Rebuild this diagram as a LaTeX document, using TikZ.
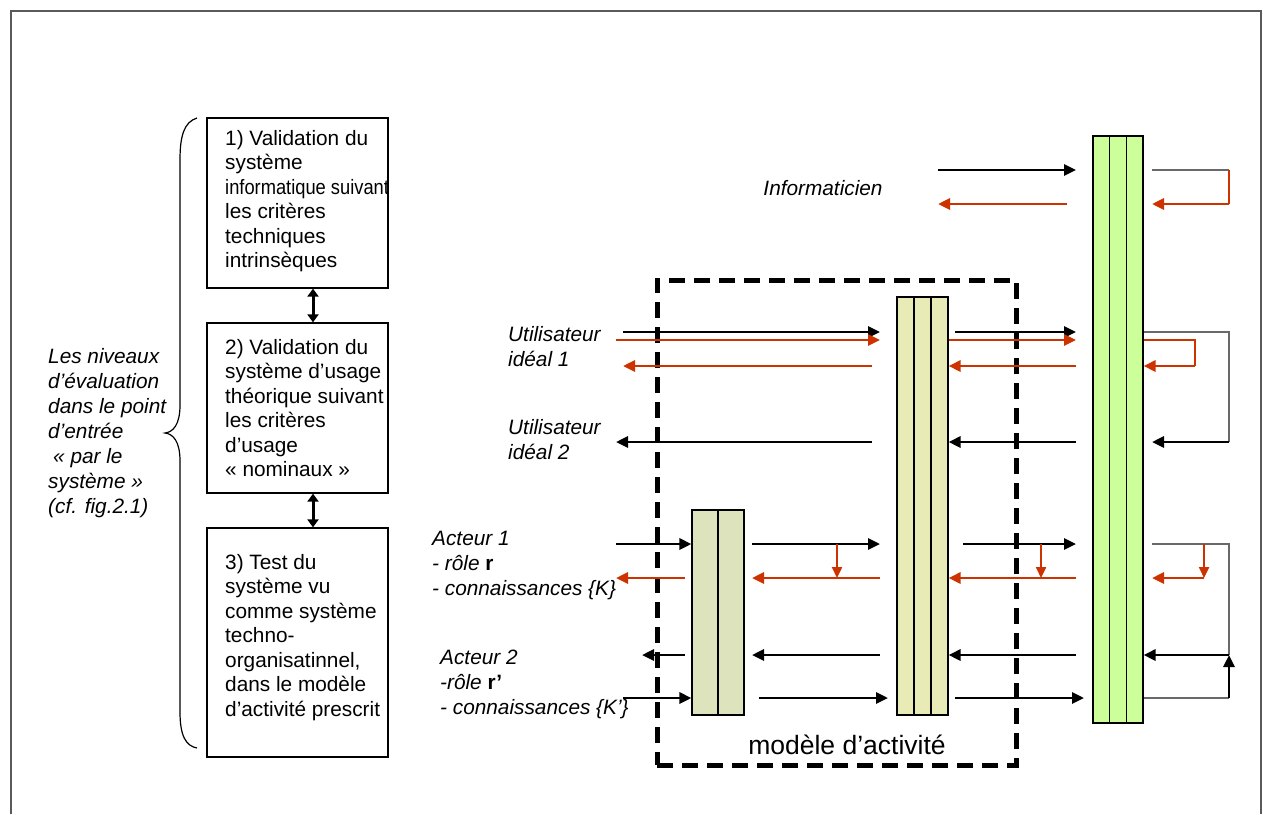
\documentclass[tikz,border=0pt]{standalone}
\usepackage{fontspec}
\setmainfont{Liberation Sans}
\usetikzlibrary{arrows.meta}
\definecolor{myred}{RGB}{204,51,0}
\definecolor{barA}{RGB}{221,227,189}
\definecolor{barB}{RGB}{232,235,181}
\definecolor{barC}{RGB}{204,255,153}
\definecolor{loopgrey}{RGB}{105,105,105}
\definecolor{framegrey}{RGB}{90,90,90}
\begin{document}
\begin{tikzpicture}[x=1pt,y=-1pt,
  box/.style={draw, line width=1.3pt, minimum width=181pt, inner sep=0pt},
  btext/.style={font=\fontsize{20.8}{24.5}\selectfont, align=left, inner sep=0pt, anchor=west},
  itext/.style={font=\fontsize{20.8}{25}\selectfont\itshape, align=left, inner sep=0pt, anchor=west},
  blk/.style={line width=2.8pt, -{Triangle[length=12pt,width=11pt]}},
  redarr/.style={myred, line width=2.8pt, -{Triangle[length=12pt,width=11pt]}},
  redv/.style={myred, line width=2.3pt, -{Triangle[length=11pt,width=10pt]}},
  gline/.style={loopgrey, line width=1.6pt},
  rthin/.style={myred, line width=1.4pt},
  dbl/.style={line width=3pt, {Triangle[length=8pt,width=11pt]}-{Triangle[length=8pt,width=11pt]}},
  barbox/.style={draw, line width=1.1pt, inner sep=0pt}
]
\useasboundingbox (0,0) rectangle (1263,814);
\fill[white] (0,0) rectangle (1263,814);
% frame
\draw[framegrey, line width=1.3pt] (11,814) -- (11,11) -- (1261,11) -- (1261,814);

% brace
\draw[line width=1.2pt] (197,118) .. controls (184,122) and (180,136) .. (180,160)
  -- (180,405) .. controls (180,425) and (173,432) .. (165,433)
  .. controls (173,434) and (180,441) .. (180,461)
  -- (180,712) .. controls (180,736) and (186,746) .. (197,748);

% left text
\node[itext] (lvl) at (48,433) {Les niveaux\\d’évaluation\\dans le point\\d’entrée\\\hspace{5pt}«~par le\\système~»\\(cf. fig.2.1)};

% boxes
\node[box, minimum height=170pt] (b1) at (297.5,203) {};
\node[box, minimum height=170pt] (b2) at (297.5,408) {};
\node[box, minimum height=229pt] (b3) at (297.5,642.5) {};
\node[btext] (t1) at (225,201) {1) Validation du\\système\\\scalebox{0.88}[1]{informatique suivant}\\les critères\\techniques\\intrinsèques};
\node[btext] (t2) at (225,408) {2) Validation du\\système d’usage\\théorique suivant\\les critères\\d’usage\\«~nominaux~»};
\node[btext] (t3) at (225,637.5) {3) Test du\\système vu\\comme système\\techno-\\organisatinnel,\\dans le modèle\\d’activité prescrit};
\draw[dbl] ([xshift=15.5pt]b1.south) -- ([xshift=15.5pt]b2.north);
\draw[dbl] ([xshift=15.5pt]b2.south) -- ([xshift=15.5pt]b3.north);

% dashed model box
\node[draw, line width=5pt, dash pattern=on 16pt off 9pt, minimum width=359pt, minimum height=485pt, inner sep=0pt] (M) at (836.5,522.5) {};
\node[font=\fontsize{26.5}{30}\selectfont, inner sep=0pt] (Mlab) at (847,745) {modèle d’activité};

% bars
\node[barbox, fill=barA, minimum width=52pt, minimum height=205pt] (B1) at (718,612.5) {};
\draw[line width=1.1pt] (B1.north) -- (B1.south);
\node[barbox, fill=barB, minimum width=51pt, minimum height=418pt] (B2) at (922.5,506) {};
\draw[line width=1.1pt] ([xshift=-8.5pt]B2.north) -- ([xshift=-8.5pt]B2.south);
\draw[line width=1.1pt] ([xshift=8.5pt]B2.north) -- ([xshift=8.5pt]B2.south);
\node[barbox, fill=barC, minimum width=50pt, minimum height=587pt] (B3) at (1118,429.5) {};
\draw[line width=1.1pt] ([xshift=-8.33pt]B3.north) -- ([xshift=-8.33pt]B3.south);
\draw[line width=1.1pt] ([xshift=8.33pt]B3.north) -- ([xshift=8.33pt]B3.south);

% labels
\node[itext, anchor=center] (inf) at (823,188) {Informaticien};
\node[itext] (u1) at (508,347) {Utilisateur\\idéal 1};
\node[itext] (u2) at (508,440) {Utilisateur\\idéal 2};
\node[itext] (a1) at (432,565) {Acteur 1\\- rôle \textbf{\textup{r}}\\- connaissances \{K\}};
\node[itext] (a2) at (440,684) {Acteur 2\\-rôle \textbf{\textup{r’}}\\- connaissances \{K’\}};

% rows and columns
\coordinate (yI1) at (0,170);  \coordinate (yI2) at (0,204);
\coordinate (yU1) at (0,332);  \coordinate (yU1r) at (0,340); \coordinate (yU1b) at (0,366);
\coordinate (yU2) at (0,442);
\coordinate (yA1) at (0,544);  \coordinate (yA1r) at (0,578);
\coordinate (yA2) at (0,655);  \coordinate (yA2f) at (0,698);
\coordinate (xa) at (616,0); \coordinate (xb) at (623,0); \coordinate (xc) at (642,0);
\coordinate (xd) at (685,0); \coordinate (xe) at (752,0); \coordinate (xf) at (759,0);
\coordinate (xg) at (837,0); \coordinate (xh) at (872,0); \coordinate (xi) at (880,0);
\coordinate (xj) at (888,0); \coordinate (xk) at (938,0); \coordinate (xl) at (955,0);
\coordinate (xm) at (963,0); \coordinate (xn) at (1041,0); \coordinate (xo) at (1067,0);
\coordinate (xp) at (1076,0); \coordinate (xq) at (1084,0); \coordinate (xr) at (1152,0);
\coordinate (xs) at (1195,0); \coordinate (xt) at (1204,0); \coordinate (xu) at (1229,0);

% Informaticien row
\draw[blk] (xk |- yI1) -- (xp |- yI1);
\draw[redarr] (xo |- yI2) -- (xk |- yI2);
\draw[gline] (xr |- yI1) -- (xu |- yI1);
\draw[rthin] (xu |- yI1) -- (xu |- yI2);
\draw[redarr] (xu |- yI2) -- (xr |- yI2);

% Utilisateur 1 row
\draw[blk] (xb |- yU1) -- (xi |- yU1);
\draw[redarr] (xa |- yU1r) -- (xi |- yU1r);
\draw[redarr] (xh |- yU1b) -- (xb |- yU1b);
\draw[blk] (xl |- yU1) -- (xp |- yU1);
\draw[redarr] (B2.east |- yU1r) -- (xp |- yU1r);
\draw[redarr] (xp |- yU1b) -- (B2.east |- yU1b);
\draw[gline] (B3.east |- yU1) -- (xu |- yU1) -- (xu |- yU2);
\draw[blk] (xu |- yU2) -- (xr |- yU2);
\draw[rthin] (B3.east |- yU1r) -- (xs |- yU1r) -- (xs |- yU1b);
\draw[redarr] (xs |- yU1b) -- (B3.east |- yU1b);

% Utilisateur 2 row
\draw[blk] (xh |- yU2) -- (xa |- yU2);
\draw[blk] (xp |- yU2) -- (B2.east |- yU2);

% Acteur 1 row
\draw[blk] (xa |- yA1) -- (B1.west |- yA1);
\draw[redarr] (xd |- yA1r) -- (xa |- yA1r);
\draw[blk] (xe |- yA1) -- (xi |- yA1);
\draw[redarr] (xi |- yA1r) -- (xe |- yA1r);
\draw[redv] (xg |- yA1) -- (xg |- yA1r);
\draw[blk] (xm |- yA1) -- (xp |- yA1);
\draw[redarr] (xp |- yA1r) -- (B2.east |- yA1r);
\draw[redv] (xn |- yA1) -- (xn |- yA1r);
\draw[gline] (xr |- yA1) -- (xu |- yA1) -- (xu |- yA2);
\draw[redv] (xt |- yA1) -- (xt |- yA1r);
\draw[redarr] (xt |- yA1r) -- (xr |- yA1r);
\draw[blk] (xu |- yA2) -- (B3.east |- yA2);
\draw[gline] (B3.east |- yA2f) -- (xu |- yA2f);
\draw[blk] (xu |- yA2f) -- (xu |- yA2);

% Acteur 2 row
\draw[blk] (xd |- yA2) -- (xc |- yA2);
\draw[blk] (xb |- yA2f) -- (B1.west |- yA2f);
\draw[blk] (xi |- yA2) -- (xe |- yA2);
\draw[blk] (xf |- yA2f) -- (xj |- yA2f);
\draw[blk] (xp |- yA2) -- (B2.east |- yA2);
\draw[blk] (xl |- yA2f) -- (xq |- yA2f);
\end{tikzpicture}
\end{document}
